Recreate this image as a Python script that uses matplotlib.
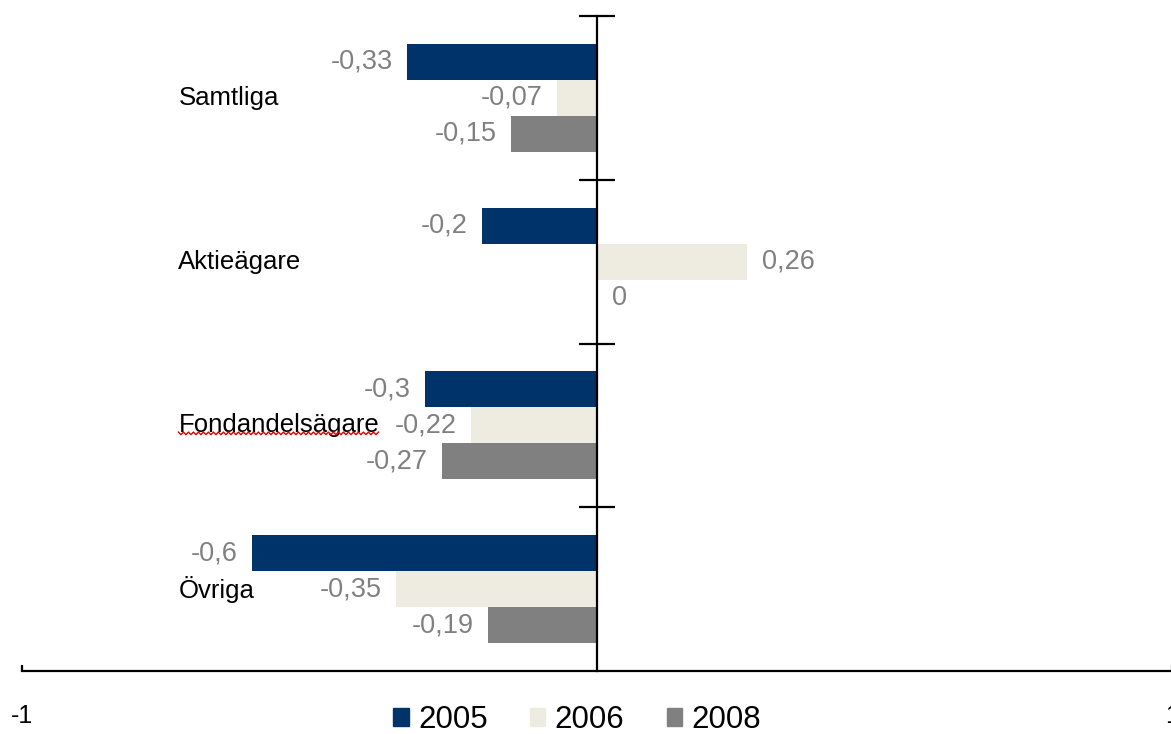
import numpy as np
import matplotlib
matplotlib.use('Agg')
import matplotlib.pyplot as plt
import matplotlib.patches as mpatches
from matplotlib.lines import Line2D

plt.rcParams['font.family'] = ['Liberation Sans', 'DejaVu Sans']

# Data
categories = ['Samtliga', 'Aktieägare', 'Fondandelsägare', 'Övriga']
series = ['2005', '2006', '2008']
v2005 = [-0.33, -0.2, -0.3, -0.6]
v2006 = [-0.07, 0.26, -0.22, -0.35]
v2008 = [-0.15, 0.0, -0.27, -0.19]
colors = ['#00336A', '#EEEBE0', '#808080']

W, H = 1171, 734
fig = plt.figure(figsize=(W / 100, H / 100), dpi=100)
ax = fig.add_axes([22 / W, 63 / H, 1150 / W, 655 / H])

y = np.arange(len(categories))
bh = 0.22
for i, (vals, c) in enumerate(zip([v2005, v2006, v2008], colors)):
    pos = y + (i - 1) * bh
    ax.barh(pos, vals, height=bh, color=c, edgecolor='none', zorder=2)
    for p, v in zip(pos, vals):
        lab = f'{v:g}'.replace('.', ',')
        if v < 0:
            ax.annotate(lab, (v, p), xytext=(-10, 0), textcoords='offset points',
                        ha='right', va='center', fontsize=19.5, color='#808080')
        else:
            ax.annotate(lab, (v, p), xytext=(11, 0), textcoords='offset points',
                        ha='left', va='center', fontsize=19.5, color='#808080')

ax.set_xlim(-1, 1)
ax.set_ylim(3.5, -0.5)

# Axes styling
for s in ['top', 'right']:
    ax.spines[s].set_visible(False)
ax.spines['left'].set_position(('data', 0))
ax.spines['left'].set_linewidth(1.6)
ax.spines['bottom'].set_linewidth(1.6)
ax.set_yticks([-0.5, 0.5, 1.5, 2.5])
ax.set_yticklabels([])
ax.tick_params(axis='y', direction='inout', length=26, width=1.6)
ax.set_xticks([-1, 1])
ax.set_xticklabels(['-1', '1'])
ax.tick_params(axis='x', direction='in', length=4, width=1.6, pad=24, labelsize=18)

# Category labels
cat_texts = []
for yi, cat in zip(y, categories):
    t = ax.text(-0.728, yi, cat, ha='left', va='center', fontsize=18.5, color='black')
    cat_texts.append(t)

# Legend
handles = [mpatches.Patch(color=c, label=s) for c, s in zip(colors, series)]
fig.legend(handles=handles, loc='center', bbox_to_anchor=(577 / W, 1 - 720 / H),
           ncol=3, frameon=False, fontsize=22.5, handlelength=0.5, handleheight=0.5,
           handletextpad=0.3, columnspacing=1.35)

# Spell-check squiggle under "Fondandelsägare"
fig.canvas.draw()
bb = cat_texts[2].get_window_extent()
xs = np.arange(bb.x0, bb.x1, 2.5)
ys = bb.y0 + 4 + np.where(np.arange(len(xs)) % 2 == 0, 1.3, -1.3)
fig.add_artist(Line2D(xs, ys, color='#E00000', linewidth=1.0, transform=None))

fig.savefig('out.png', dpi=100)
